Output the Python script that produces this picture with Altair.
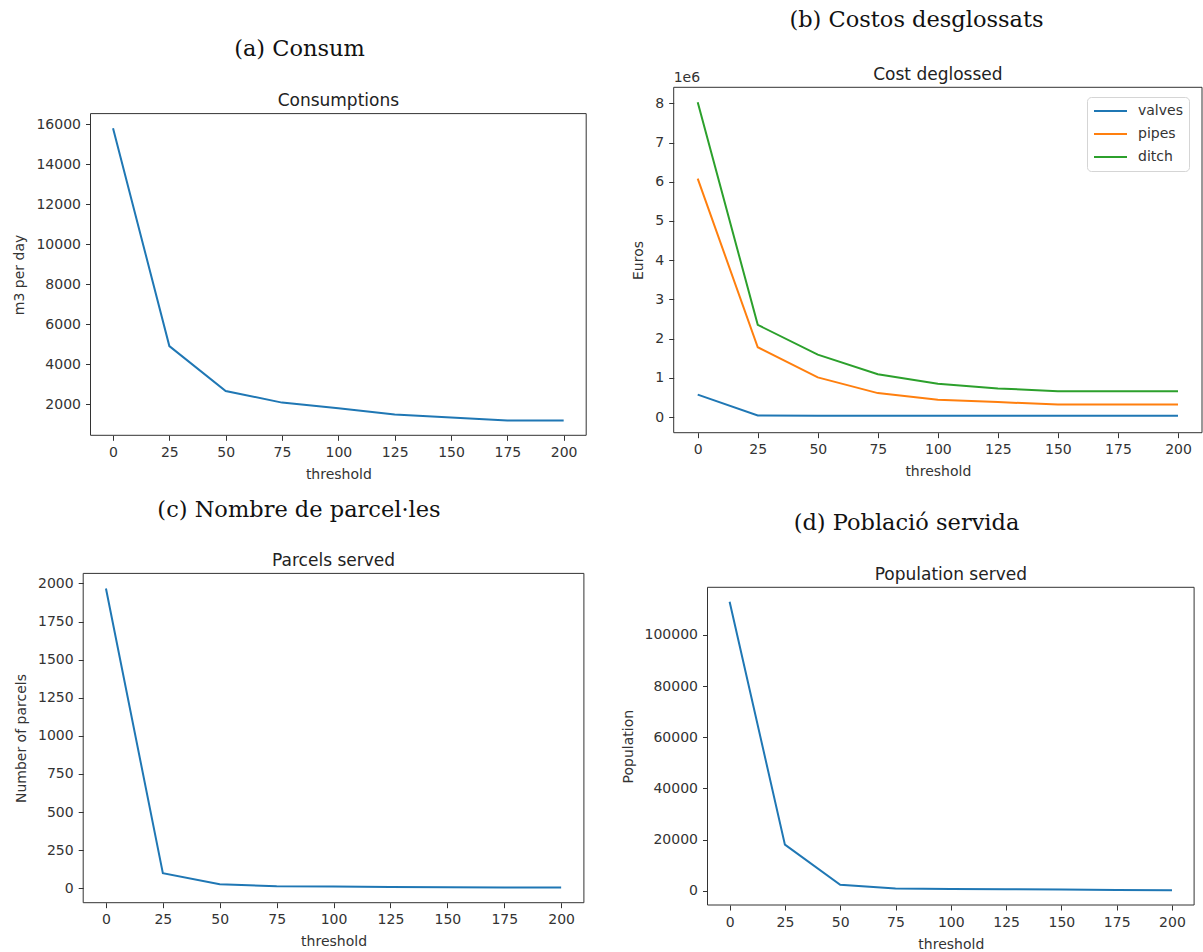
import altair as alt
import pandas as pd

# ---------------- data ----------------
threshold = [0, 25, 50, 75, 100, 125, 150, 175, 200]
consumption = [15800, 4900, 2650, 2070, 1790, 1480, 1330, 1170, 1170]
cost_series = ["valves", "pipes", "ditch"]
cost_valves = [570000, 40000, 30000, 30000, 30000, 30000, 30000, 30000, 30000]
cost_pipes = [6080000, 1780000, 1010000, 610000, 440000, 380000, 320000, 320000, 320000]
cost_ditch = [8030000, 2350000, 1590000, 1090000, 850000, 730000, 660000, 660000, 660000]
parcels = [1967, 99, 26, 14, 11, 8, 7, 5, 5]
population = [113000, 18000, 2300, 800, 700, 600, 500, 250, 200]

captions = ["(a) Consum", "(b) Costos desglossats",
            "(c) Nombre de parcel·les", "(d) Població servida"]
plot_titles = ["Consumptions", "Cost deglossed", "Parcels served", "Population served"]
y_titles = ["m3 per day", "Euros", "Number of parcels", "Population"]
x_title = "threshold"
y_ticks_a = [2000, 4000, 6000, 8000, 10000, 12000, 14000, 16000]
y_ticks_b = [0, 1000000, 2000000, 3000000, 4000000, 5000000, 6000000, 7000000, 8000000]
y_ticks_c = [0, 250, 500, 750, 1000, 1250, 1500, 1750, 2000]
y_ticks_d = [0, 20000, 40000, 60000, 80000, 100000]

# ---------------- styling / layout ----------------
W, H = 1203, 952
BLUE, ORANGE, GREEN = "#1f77b4", "#ff7f0e", "#2ca02c"
INK = "#333333"
SANS = "DejaVu Sans"
SERIF = "DejaVu Serif"
X_DOMAIN = [-10, 210]


def panel(df, ycol, xr, yr, ydom, ytitle, yticks, caption, cap_xy, ptitle,
          color=None, label_expr=None, extra=None):
    x = alt.X("threshold:Q",
              scale=alt.Scale(domain=X_DOMAIN, range=xr, nice=False, zero=False),
              axis=alt.Axis(orient="bottom", offset=yr[0] - H, values=threshold,
                            title=x_title, format="d", labelFlush=False,
                            titlePadding=8))
    yaxis = dict(orient="left", offset=-xr[0], values=yticks, title=ytitle,
                 format="d", labelFlush=False, titlePadding=9)
    if label_expr:
        yaxis["labelExpr"] = label_expr
    y = alt.Y(f"{ycol}:Q",
              scale=alt.Scale(domain=ydom, range=yr, nice=False, zero=False),
              axis=alt.Axis(**yaxis))
    base = alt.Chart(df)
    if color is None:
        line = base.mark_line(color=BLUE, strokeWidth=2).encode(x=x, y=y)
    else:
        line = base.mark_line(strokeWidth=2).encode(x=x, y=y, color=color)

    one = alt.Chart(pd.DataFrame({"k": [0]}))
    frame = one.mark_rect(fillOpacity=0, stroke=INK, strokeWidth=1).encode(
        x=alt.XDatum(X_DOMAIN[0]), x2=alt.X2Datum(X_DOMAIN[1]),
        y=alt.YDatum(ydom[0]), y2=alt.Y2Datum(ydom[1]))
    ttl = one.mark_text(font=SANS, fontSize=17, color="#222222", align="center",
                        baseline="alphabetic", dy=-7.5, text=ptitle).encode(
        x=alt.XDatum(100), y=alt.YDatum(ydom[1]))
    cap = one.mark_text(font=SERIF, fontSize=22.5, color="#111111", align="center",
                        baseline="alphabetic", text=caption).encode(
        x=alt.value(cap_xy[0]), y=alt.value(cap_xy[1]))
    layers = [line, frame, ttl, cap]
    if extra is not None:
        layers.append(extra(one, ydom))
    return alt.layer(*layers)


# (a)
df_a = pd.DataFrame({"threshold": threshold, "v": consumption})
pa = panel(df_a, "v", [90.5, 586.2], [435.3, 113.6], [434, 16532],
           y_titles[0], y_ticks_a, captions[0], (299.5, 56.4), plot_titles[0])

# (b)
df_b = pd.DataFrame({
    "threshold": threshold * 3,
    "v": cost_valves + cost_pipes + cost_ditch,
    "series": [s for s in cost_series for _ in threshold],
})
color_b = alt.Color(
    "series:N",
    scale=alt.Scale(domain=cost_series, range=[BLUE, ORANGE, GREEN]),
    legend=alt.Legend(orient="none", legendX=1087, legendY=97, title=None,
                      symbolType="stroke", symbolStrokeWidth=2, symbolSize=1089,
                      clipHeight=16, rowPadding=7, labelFontSize=14, labelFont=SANS,
                      labelColor=INK, labelOffset=10, padding=6,
                      fillColor="white", strokeColor="#d5d5d5", cornerRadius=4))


def offset_text(one, ydom):
    return one.mark_text(font=SANS, fontSize=14, color=INK, align="left",
                         baseline="alphabetic", dy=-5, text="1e6").encode(
        x=alt.XDatum(X_DOMAIN[0]), y=alt.YDatum(ydom[1]))


pb = panel(df_b, "v", [673.7, 1202.0], [432.7, 87.3], [-400000, 8410000],
           y_titles[1], y_ticks_b, captions[1], (916.5, 27), plot_titles[1],
           color=color_b, label_expr="format(datum.value / 1000000, 'd')",
           extra=offset_text)

# (c)
df_c = pd.DataFrame({"threshold": threshold, "v": parcels})
pc = panel(df_c, "v", [83.2, 583.9], [902.7, 573.4], [-94.5, 2066],
           y_titles[2], y_ticks_c, captions[2], (299, 517), plot_titles[2])

# (d)
df_d = pd.DataFrame({"threshold": threshold, "v": population})
pd_ = panel(df_d, "v", [707.5, 1194.1], [905, 587.3], [-5606, 118644],
            y_titles[3], y_ticks_d, captions[3], (906.5, 529.5), plot_titles[3])

chart = (
    alt.layer(pa, pb, pc, pd_)
    .resolve_scale(x="independent", y="independent")
    .resolve_axis(x="independent", y="independent")
    .properties(width=W, height=H, padding=0,
                autosize=alt.AutoSizeParams(type="none"), background="white")
    .configure_view(stroke="transparent")
    .configure_axis(labelFont=SANS, titleFont=SANS, labelFontSize=14,
                    titleFontSize=14, titleFontWeight="normal", labelColor=INK,
                    titleColor=INK, tickColor=INK, tickSize=5, tickWidth=1,
                    labelPadding=5, grid=False, domain=False)
)

chart.save("out.html", embed_options={"renderer": "svg", "actions": False})
